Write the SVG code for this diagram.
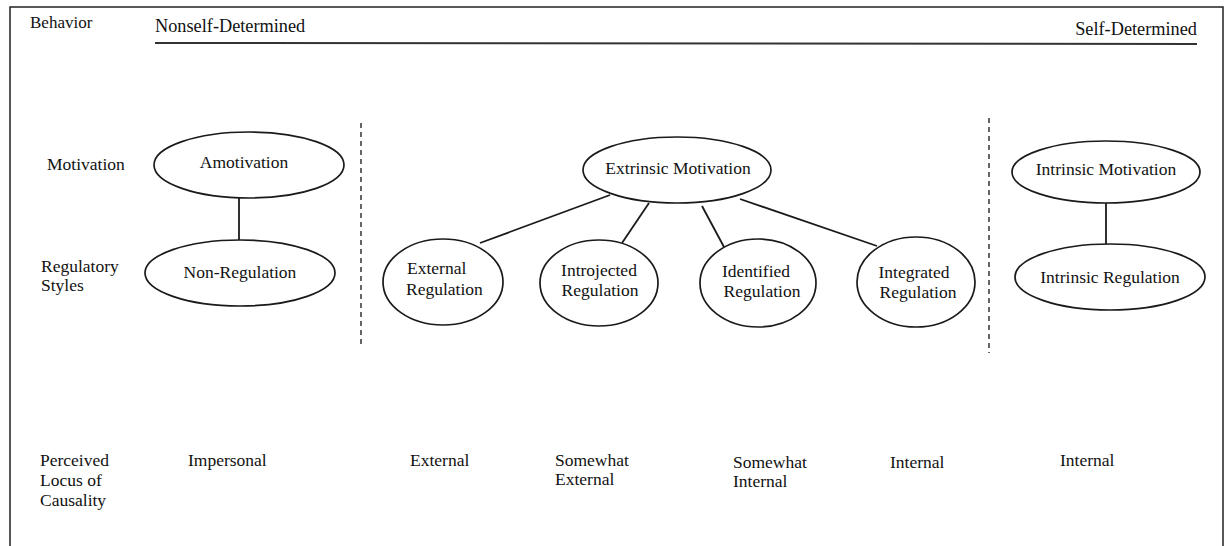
<svg xmlns="http://www.w3.org/2000/svg" width="1227" height="546" viewBox="0 0 1227 546">
<style>
text{font-family:"Liberation Serif","Times New Roman",serif;font-size:17.5px;fill:#111}
.n ellipse{fill:#fff;stroke:#1a1a1a;stroke-width:1.7}
.c line{stroke:#1a1a1a;stroke-width:1.8}
.d{stroke:#333;stroke-width:1.5;stroke-dasharray:5 4;fill:none}
.m{text-anchor:middle}
.h{font-size:18.3px}
</style>
<rect width="1227" height="546" fill="#fff"/>
<path d="M10,546 V7 H1223 V546" fill="none" stroke="#222" stroke-width="1.5"/>
<line x1="155" y1="43" x2="1197" y2="44" stroke="#333" stroke-width="2"/>
<text x="30" y="28" style="font-size:17px">Behavior</text>
<text class="h" x="155" y="32">Nonself-Determined</text>
<text class="h" x="1197" y="35" text-anchor="end">Self-Determined</text>
<text x="47" y="170">Motivation</text>
<text x="41" y="272">Regulatory</text>
<text x="41" y="291">Styles</text>
<text x="40" y="466">Perceived</text>
<text x="40" y="486">Locus of</text>
<text x="40" y="506">Causality</text>
<text x="188" y="466">Impersonal</text>
<text x="410" y="466">External</text>
<text x="555" y="466">Somewhat</text>
<text x="555" y="485">External</text>
<text x="733" y="468">Somewhat</text>
<text x="733" y="487">Internal</text>
<text x="890" y="468">Internal</text>
<text x="1060" y="466">Internal</text>
<line class="d" x1="361" y1="123" x2="361" y2="345"/>
<line class="d" x1="989" y1="118" x2="989" y2="353"/>
<g id="connectors" class="c">
<line x1="239" y1="198" x2="239" y2="240"/>
<line x1="610" y1="195" x2="480" y2="243"/>
<line x1="649" y1="203" x2="622" y2="243"/>
<line x1="702" y1="206" x2="724" y2="247"/>
<line x1="740" y1="199" x2="877" y2="246"/>
<line x1="1106" y1="203" x2="1106" y2="245"/>
</g>
<g id="amotivation" class="n"><ellipse cx="249" cy="165" rx="95" ry="33"/><text class="m" x="244" y="168">Amotivation</text></g>
<g id="non-regulation" class="n"><ellipse cx="240" cy="273" rx="95" ry="33"/><text class="m" x="240" y="278">Non-Regulation</text></g>
<g id="extrinsic-motivation" class="n"><ellipse cx="677" cy="170" rx="94" ry="33"/><text class="m" x="678" y="174">Extrinsic Motivation</text></g>
<g id="external-regulation" class="n"><ellipse cx="443" cy="282" rx="60" ry="43"/><text x="407" y="274">External</text><text x="406" y="295">Regulation</text></g>
<g id="introjected-regulation" class="n"><ellipse cx="599" cy="283" rx="59" ry="43"/><text class="m" x="599" y="276">Introjected</text><text class="m" x="600" y="296">Regulation</text></g>
<g id="identified-regulation" class="n"><ellipse cx="758" cy="283" rx="58" ry="44"/><text class="m" x="756" y="277">Identified</text><text class="m" x="762" y="297">Regulation</text></g>
<g id="integrated-regulation" class="n"><ellipse cx="916" cy="282" rx="59" ry="45"/><text class="m" x="914" y="278">Integrated</text><text class="m" x="918" y="298">Regulation</text></g>
<g id="intrinsic-motivation" class="n"><ellipse cx="1106" cy="172" rx="94" ry="31"/><text class="m" x="1106" y="175">Intrinsic Motivation</text></g>
<g id="intrinsic-regulation" class="n"><ellipse cx="1110" cy="277" rx="95" ry="33"/><text class="m" x="1110" y="283">Intrinsic Regulation</text></g>
</svg>
